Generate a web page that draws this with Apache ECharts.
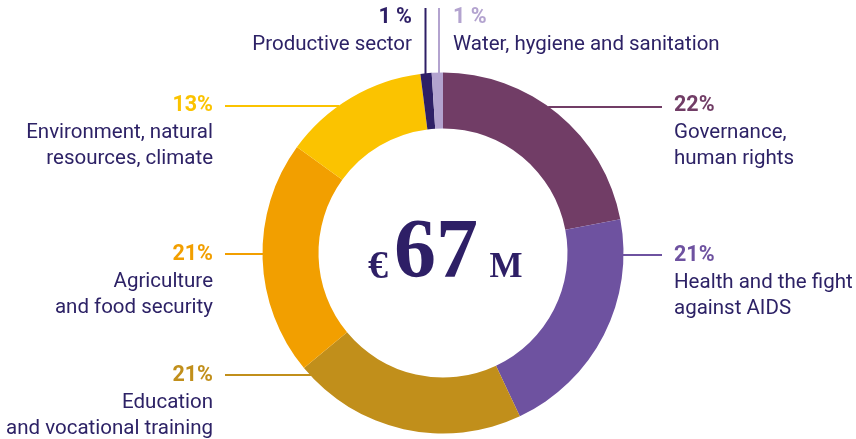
<!DOCTYPE html>
<html>
<head>
<meta charset="utf-8">
<script src="https://cdn.jsdelivr.net/npm/echarts@6/dist/echarts.min.js"></script>
<style>
html,body{margin:0;padding:0;background:#fff;}
#chart{width:856px;height:439px;}
</style>
</head>
<body>
<div id="chart"></div>
<script>
// ---- data ----
const categories = ['Governance,\nhuman rights', 'Health and the fight\nagainst AIDS', 'Education\nand vocational training', 'Agriculture\nand food security', 'Environment, natural\nresources, climate', 'Productive sector', 'Water, hygiene and sanitation'];
const shares = [22, 21, 21, 21, 13, 1, 1];
const shareLabels = ['22%', '21%', '21%', '21%', '13%', '1 %', '1 %'];
const totalAmount = '67';
const currency = '€';
const unit = 'M';

// ---- styles ----
const colors = ['#713d66', '#6e52a0', '#c18f1b', '#f29f00', '#fbc300', '#2e1f66', '#b3a3cf'];
const textColor = '#2d2266';
const CX = 443, CY = 253, R_OUT = 180.5, R_IN = 124.5;

// label placement per slice
const place = [
  {side: 'right', tx: 674, pc: 105.5, ly: 107, le: 662},
  {side: 'right', tx: 674, pc: 255.5, ly: 255, le: 662},
  {side: 'left', tx: 213, pc: 375.5, ly: 375, le: 225},
  {side: 'left', tx: 213, pc: 255, ly: 254, le: 225},
  {side: 'left', tx: 213, pc: 105.5, ly: 106, le: 225},
  {side: 'topL', tx: 412, pc: 17.5, lx: 425.5, le: 8},
  {side: 'topR', tx: 453, pc: 17.5, lx: 439, le: 8}
];

const chart = echarts.init(document.getElementById('chart'));

const data = shares.map((v, i) => ({
  value: v,
  name: categories[i],
  itemStyle: {color: colors[i]},
  label: {color: colors[i]}
}));

chart.setOption({
  animation: false,
  series: [{
    type: 'pie',
    center: [CX, CY],
    radius: [R_IN, R_OUT],
    startAngle: 90,
    clockwise: true,
    avoidLabelOverlap: false,
    itemStyle: {borderWidth: 0},
    emphasis: {disabled: true},
    label: {
      show: true,
      position: 'outside',
      fontFamily: 'Roboto',
      formatter: p => {
        const lines = categories[p.dataIndex].split('\n').map(s => '{n|' + s + '}');
        return '{p|' + shareLabels[p.dataIndex] + '}\n' + lines.join('\n');
      },
      rich: {
        p: {fontFamily: 'Roboto', fontWeight: 'bold', fontSize: 21.5, lineHeight: 28},
        n: {fontFamily: 'Roboto', fontSize: 20.5, lineHeight: 26, color: textColor}
      }
    },
    labelLine: {show: true, smooth: false, length: 10, length2: 10, lineStyle: {width: 2}},
    labelLayout: function (params) {
      const pl = place[params.dataIndex];
      let pts, align;
      if (pl.side === 'right' || pl.side === 'left') {
        const dx = Math.sqrt(R_OUT * R_OUT - (pl.ly - CY) * (pl.ly - CY));
        const sx = pl.side === 'right' ? CX + dx - 1 : CX - dx + 1;
        pts = [[sx, pl.ly], [(sx + pl.le) / 2, pl.ly], [pl.le, pl.ly]];
        align = pl.side === 'right' ? 'left' : 'right';
      } else {
        const dy = Math.sqrt(R_OUT * R_OUT - (pl.lx - CX) * (pl.lx - CX));
        const sy = CY - dy + 1;
        pts = [[pl.lx, sy], [pl.lx, (sy + pl.le) / 2], [pl.lx, pl.le]];
        align = pl.side === 'topL' ? 'right' : 'left';
      }
      return {
        x: pl.tx,
        y: pl.pc - 14,
        align: align,
        verticalAlign: 'top',
        labelLinePoints: pts,
        hideOverlap: false
      };
    },
    data: data
  }],
  graphic: [
    {type: 'text', x: 378, y: 268, style: {text: currency, fill: '#2e1f66', font: 'bold 40px "Liberation Serif"', align: 'center', verticalAlign: 'middle'}},
    {type: 'text', x: 436, y: 255, style: {text: totalAmount, fill: '#2e1f66', font: 'bold 84px "Liberation Serif"', align: 'center', verticalAlign: 'middle'}},
    {type: 'text', x: 506, y: 268, style: {text: unit, fill: '#2e1f66', font: 'bold 35px "Liberation Serif"', align: 'center', verticalAlign: 'middle'}}
  ]
});
</script>
</body>
</html>
